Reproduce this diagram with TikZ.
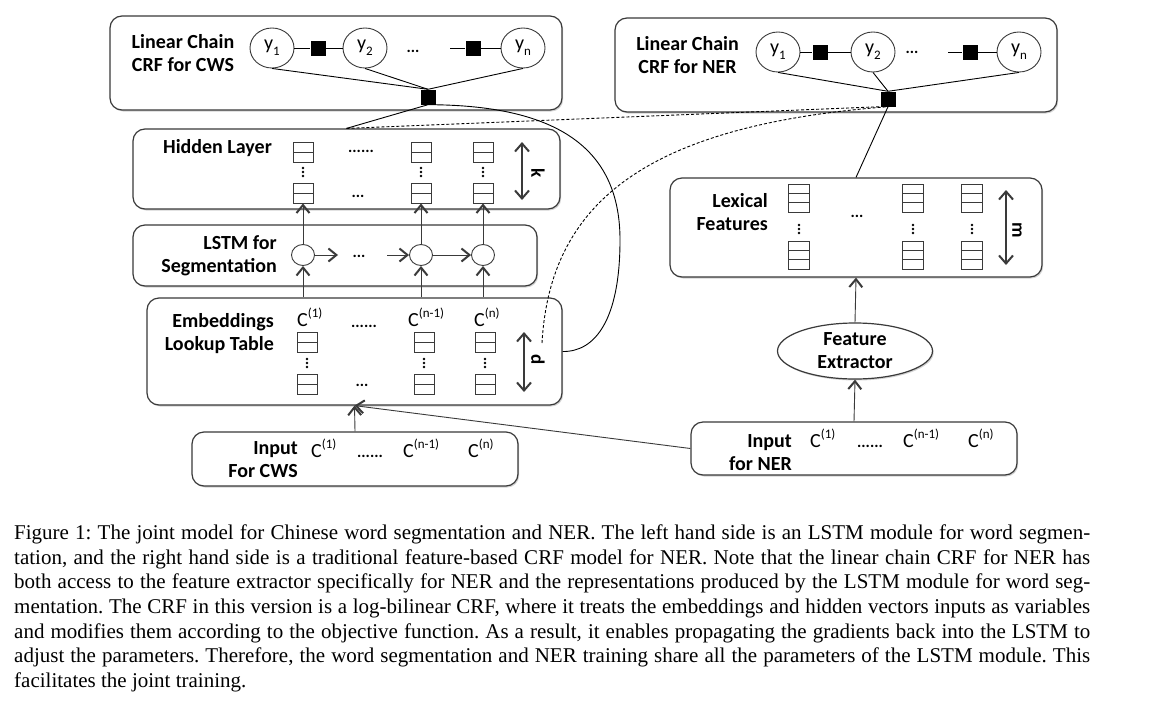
\documentclass[tikz,border=0pt]{standalone}
\usepackage{fontspec}
\setmainfont{Carlito}
\newfontfamily\capfont{Liberation Serif}
\usepackage{tikz}
\usetikzlibrary{arrows.meta,shapes.geometric,shadows,calc}

\definecolor{edgegray}{HTML}{3A3A3A}

\newcommand{\cidx}[1]{C\raisebox{0.42em}{\fontsize{13}{13}\selectfont(#1)}}
\newcommand{\yidx}[1]{y\raisebox{-0.28em}{\fontsize{13}{13}\selectfont #1}}
\newcommand{\capline}[1]{\makebox[1076pt][s]{#1}}

\tikzset{
  panel/.style={draw=edgegray, line width=1.2pt, rounded corners=12pt, fill=white,
    drop shadow={shadow xshift=1.2pt, shadow yshift=-1.5pt, opacity=0.35}},
  lbl/.style={font=\fontsize{20}{23}\selectfont\bfseries, align=right, inner sep=0pt},
  txt/.style={font=\fontsize{20}{20}\selectfont, inner sep=0pt},
  dotsfont/.style={font=\fontsize{16}{16}\selectfont\bfseries, inner sep=0pt},
  var/.style={draw=edgegray, ellipse, line width=0.9pt, fill=white, minimum width=44pt,
    minimum height=40pt, inner sep=0pt, font=\fontsize{20}{20}\selectfont},
  fac/.style={fill=black, minimum size=15pt, inner sep=0pt},
  unit/.style={draw=edgegray, ellipse, line width=0.9pt, fill=white, minimum width=23pt,
    minimum height=21pt, inner sep=0pt},
  vecbox/.style={draw=edgegray, line width=0.9pt, fill=white, minimum width=20pt, inner sep=0pt},
  vec/.style={vecbox, minimum height=20pt, path picture={
    \draw[edgegray, line width=0.8pt] (path picture bounding box.west) -- (path picture bounding box.east);}},
  lexvec/.style={vecbox, minimum width=21pt, minimum height=28pt, path picture={
    \foreach \f in {0.333,0.667}
      \draw[edgegray, line width=0.8pt]
        ($(path picture bounding box.north west)!\f!(path picture bounding box.south west)$) --
        ($(path picture bounding box.north east)!\f!(path picture bounding box.south east)$);}},
  arr/.style={draw=edgegray, line width=0.9pt, -{Straight Barb[length=8pt,width=13pt,line width=2pt]}},
  dimarr/.style={draw=edgegray, line width=1.8pt,
    {Straight Barb[length=8pt,width=14pt,line width=2pt]}-{Straight Barb[length=8pt,width=14pt,line width=2pt]}},
  dimlbl/.style={rotate=-90, font=\fontsize{19}{19}\selectfont\bfseries, inner sep=0pt},
  link/.style={draw=black, line width=0.9pt},
}

\begin{document}
\begin{tikzpicture}[x=1pt,y=-1pt]

\path[use as bounding box, fill=white] (0,0) rectangle (1166,704);

% panels
\node[panel, minimum width=452pt, minimum height=94pt] (crfcws) at (336,63) {};
\node[panel, minimum width=442pt, minimum height=94pt] (crfner) at (836,65) {};
\node[panel, minimum width=427pt, minimum height=80pt] (hidden) at (346.5,169) {};
\node[panel, minimum width=404pt, minimum height=61pt] (lstm) at (335,255.5) {};
\node[panel, minimum width=415pt, minimum height=107pt] (embed) at (354.5,351.5) {};
\node[panel, minimum width=326pt, minimum height=54pt] (incws) at (355,459) {};
\node[panel, minimum width=372pt, minimum height=99pt] (lexical) at (856,227.5) {};
\node[panel, minimum width=326pt, minimum height=53pt] (inner) at (854,448.5) {};
\node[panel, ellipse, rounded corners=0pt, minimum width=155pt, minimum height=56pt, inner sep=0pt,
  font=\fontsize{20}{23}\selectfont\bfseries, align=center] (featext) at (855,351) {Feature\\Extractor};

% labels
\node[lbl, align=center] (crfcwslbl) at (183,53) {Linear Chain\\CRF for CWS};
\node[lbl, align=center] (crfnerlbl) at (687.5,55.5) {Linear Chain\\CRF for NER};
\node[lbl, anchor=base] (hiddenlbl) at (217.5,153) {Hidden Layer};
\node[lbl, anchor=east] (lstmlbl) at (277,255.5) {LSTM for\\Segmentation};
\node[lbl, anchor=east] (embedlbl) at (274,333.5) {Embeddings\\Lookup Table};
\node[lbl, anchor=east] (incwslbl) at (298,459.5) {Input\\For CWS};
\node[lbl, anchor=east] (lexicallbl) at (768,212) {Lexical\\Features};
\node[lbl, anchor=east] (innerlbl) at (792,453) {Input\\for NER};

% linear chain CRF for CWS
\node[var] (cy1) at (272,48) {\yidx{1}};
\node[var] (cy2) at (365,48) {\yidx{2}};
\node[var] (cyn) at (523,48) {\yidx{n}};
\node[fac] (cf1) at (318,48) {};
\node[fac] (cf2) at (473,48) {};
\node[dotsfont, anchor=base] (cdots) at (413,52) {...};
\coordinate (cgap) at (450,48);
\node[fac] (fcws) at (428,97) {};
\draw[link] (cy1) -- (cf1) -- (cy2);
\draw[link] (cgap) -- (cf2) -- (cyn);
\foreach \v in {cy1,cy2,cyn}{
    \draw[link] (\v.south) -- (fcws.north);
}

% linear chain CRF for NER
\node[var] (ny1) at (778,52) {\yidx{1}};
\node[var] (ny2) at (873,52) {\yidx{2}};
\node[var] (nyn) at (1019,52) {\yidx{n}};
\node[fac] (nf1) at (820,52) {};
\node[fac] (nf2) at (970,52) {};
\node[dotsfont, anchor=base] (ndots) at (912,53) {...};
\coordinate (ngap) at (948,52);
\node[fac] (fner) at (888,99) {};
\draw[link] (ny1) -- (nf1) -- (ny2);
\draw[link] (ngap) -- (nf2) -- (nyn);
\foreach \v in {ny1,ny2,nyn}{
    \draw[link] (\v.south) -- (fner.north);
}

% hidden layer
\foreach \x/\n in {303/1,421/2,483/3}{
    \node[vec] (ht\n) at (\x,152) {};
    \node[vec] (hb\n) at (\x,193) {};
    \foreach \dy in {-4,0,4} \fill (\x,172+\dy) circle (1.3pt);
}
\node[dotsfont, anchor=base] (hdots1) at (361,152) {......};
\node[dotsfont, anchor=base] (hdots2) at (358,197) {...};
\coordinate (k1) at (522,142);
\coordinate (k2) at (522,200);
\draw[dimarr] (k1) -- (k2);
\node[dimlbl] (klbl) at (538,173) {k};

% LSTM
\foreach \x/\n in {303/1,421/2,483/3}{
    \node[unit] (u\n) at (\x,255) {};
    \draw[arr] (u\n.north) -- (hb\n.south);
    \draw[arr] (u\n |- embed.north) -- (u\n.south);
}
\coordinate (u1r) at (338,255);
\coordinate (u2l) at (387,255);
\node[dotsfont, anchor=base] (udots) at (359,257) {...};
\draw[arr] (u1) -- (u1r);
\draw[arr] (u2l) -- (u2);
\draw[arr] (u2) -- (u3);

% embeddings
\node[txt, anchor=base west] (ec1) at (297,326) {\cidx{1}};
\node[txt, anchor=base west] (ec2) at (408,326) {\cidx{n-1}};
\node[txt, anchor=base west] (ec3) at (474,326) {\cidx{n}};
\node[dotsfont, anchor=base] (edots1) at (364,327) {......};
\node[dotsfont, anchor=base] (edots2) at (362,386) {...};
\foreach \x/\n in {307/1,424/2,485/3}{
    \node[vec] (et\n) at (\x,342) {};
    \node[vec] (eb\n) at (\x,384) {};
    \foreach \dy in {-4,0,4} \fill (\x,363+\dy) circle (1.3pt);
}
\coordinate (d1) at (524,332);
\coordinate (d2) at (524,392);
\draw[dimarr] (d1) -- (d2);
\node[dimlbl] (dlbl) at (538,360) {d};

% input for CWS
\node[txt, anchor=base west] (ic1) at (311,457) {\cidx{1}};
\node[txt, anchor=base west] (ic2) at (403,457) {\cidx{n-1}};
\node[txt, anchor=base west] (ic3) at (468,457) {\cidx{n}};
\node[dotsfont, anchor=base] (idots) at (370,457) {......};

% lexical features
\foreach \x/\n in {799/1,913/2,972/3}{
    \node[lexvec] (lt\n) at (\x,198) {};
    \node[lexvec] (lb\n) at (\x,255) {};
    \foreach \dy in {-4,0,4} \fill (\x,229+\dy) circle (1.3pt);
}
\node[dotsfont, anchor=base] (ldots) at (857,217) {...};
\coordinate (m1) at (1006,190);
\coordinate (m2) at (1006,265);
\draw[dimarr] (m1) -- (m2);
\node[dimlbl] (mlbl) at (1017,230) {m};

% input for NER
\node[txt, anchor=base west] (nc1) at (810,447) {\cidx{1}};
\node[txt, anchor=base west] (nc2) at (903,447) {\cidx{n-1}};
\node[txt, anchor=base west] (nc3) at (968,447) {\cidx{n}};
\node[dotsfont, anchor=base] (ndots2) at (870,447) {......};

% connections
\draw[arr] (incws.north) -- (embed.south);
\draw[arr] (inner.west) -- (embed.south);
\draw[arr] (inner.north) -- (featext.south);
\draw[arr] (featext.north) -- (lexical.south);
\draw[link] (lexical.north) -- (fner.south);
\draw[link] (fcws.south) -- (hidden.north);
\draw[link] (fcws.south) .. controls (560,105) and (620,150) .. (620,240)
    .. controls (620,320) and (595,352) .. (embed.east);
\coordinate (dstart) at (542,343);
\draw[link, dash pattern=on 3pt off 2pt] (hidden.north) -- (fner.south west);
\draw[link, dash pattern=on 3pt off 2pt] (dstart) .. controls (550,200) and (650,125) .. (fner.south);

% caption
\node[anchor=north west, inner sep=0pt, align=left, font=\capfont\fontsize{21}{24.7}\selectfont\frenchspacing] (caption) at (14,524.5) {%
\capline{Figure 1: The joint model for Chinese word segmentation and NER. The left hand side is an LSTM module for word segmen-}\\
\capline{tation, and the right hand side is a traditional feature-based CRF model for NER. Note that the linear chain CRF for NER has}\\
\capline{both access to the feature extractor specifically for NER and the representations produced by the LSTM module for word seg-}\\
\capline{mentation. The CRF in this version is a log-bilinear CRF, where it treats the embeddings and hidden vectors inputs as variables}\\
\capline{and modifies them according to the objective function. As a result, it enables propagating the gradients back into the LSTM to}\\
\capline{adjust the parameters. Therefore, the word segmentation and NER training share all the parameters of the LSTM module. This}\\
facilitates the joint training.};

\end{tikzpicture}
\end{document}
